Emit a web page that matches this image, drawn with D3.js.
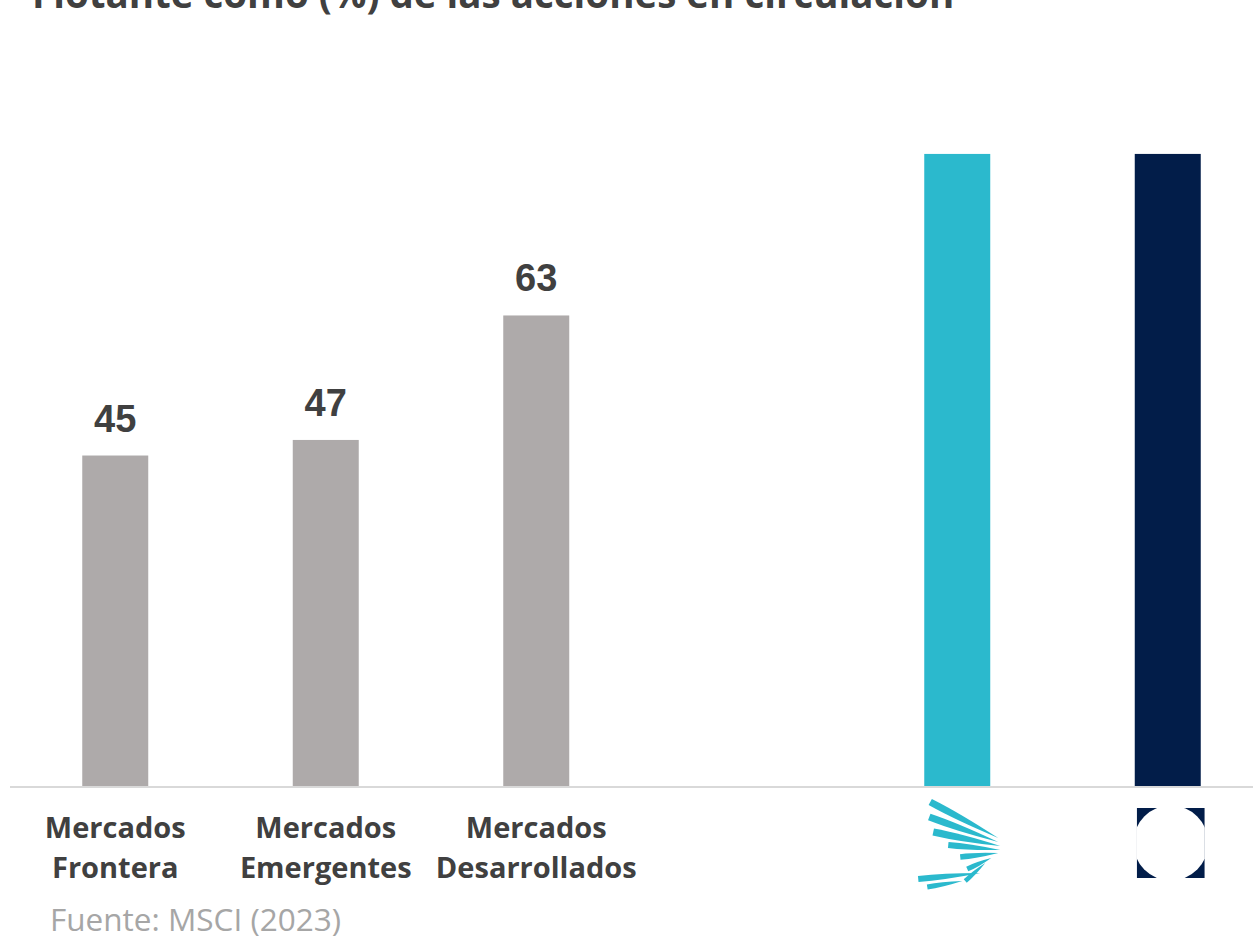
<!DOCTYPE html>
<html>
<head>
<meta charset="utf-8">
<script src="https://cdn.jsdelivr.net/npm/d3@7"></script>
<style>
  html, body { margin: 0; padding: 0; background: #ffffff; }
  svg { display: block; }
</style>
</head>
<body>
<svg id="chart" width="1253" height="940"></svg>
<script>
// ---- data ----
const categories = ["frontera", "emergentes", "desarrollados", "gap", "logoA", "logoB"];
const categoryLines = [["Mercados", "Frontera"], ["Mercados", "Emergentes"], ["Mercados", "Desarrollados"], [], [], []];
const values = [44.6, 46.7, 63.5, null, 85.3, 85.3];
const valueLabels = ["45", "47", "63", "", "", ""];
const barKinds = ["market", "market", "market", "none", "teal", "navy"];
const titleText = "Flotante como (%) de las acciones en circulación";
const sourceText = "Fuente: MSCI (2023)";

// ---- styles ----
const colors = { market: "#aeaaaa", teal: "#2bb9cd", navy: "#021d49" };
const textColor = "#404040";

const svg = d3.select("#chart");

const x = d3.scaleBand()
  .domain(categories)
  .range([10, 1273])
  .paddingInner(0.6865)
  .paddingOuter(0.6865 / 2);

const y = d3.scaleLinear().domain([0, 100]).range([786, 45]);

// title (cut at top, as in reference)
svg.append("text")
  .attr("x", 32).attr("y", 8)
  .attr("font-family", "Open Sans")
  .attr("font-weight", 700)
  .attr("font-size", 38.5)
  .attr("fill", textColor)
  .text(titleText);

const data = categories.map((c, i) => ({ c, v: values[i], label: valueLabels[i], kind: barKinds[i], lines: categoryLines[i] }));

// bars
svg.append("g").selectAll("rect")
  .data(data.filter(d => d.v != null))
  .join("rect")
  .attr("x", d => x(d.c))
  .attr("width", x.bandwidth())
  .attr("y", d => y(d.v))
  .attr("height", d => y(0) - y(d.v))
  .attr("fill", d => colors[d.kind]);

// axis baseline
svg.append("line")
  .attr("x1", 10).attr("x2", 1253)
  .attr("y1", y(0) + 1).attr("y2", y(0) + 1)
  .attr("stroke", "#d9d9d9").attr("stroke-width", 2);

// value labels
svg.append("g").selectAll("text")
  .data(data.filter(d => d.v != null && d.label))
  .join("text")
  .attr("x", d => x(d.c) + x.bandwidth() / 2)
  .attr("y", d => y(d.v) - 24)
  .attr("text-anchor", "middle")
  .attr("font-family", "Liberation Sans, Arial, sans-serif")
  .attr("font-weight", 700)
  .attr("font-size", 38)
  .attr("fill", textColor)
  .text(d => d.label);

// category labels
const catG = svg.append("g");
data.forEach(d => {
  if (!d.lines.length) return;
  const t = catG.append("text")
    .attr("text-anchor", "middle")
    .attr("font-family", "Open Sans")
    .attr("font-weight", 700)
    .attr("font-size", 29)
    .attr("fill", textColor);
  d.lines.forEach((ln, j) => {
    t.append("tspan")
      .attr("x", x(d.c) + x.bandwidth() / 2)
      .attr("y", 838 + j * 40)
      .text(ln);
  });
});

// logo A: teal wing under teal bar
const cxA = x("logoA") + x.bandwidth() / 2;
const feathers = [
  [[-27, 802], [41, 838], 7],
  [[-28, 817], [41, 842], 7],
  [[-24, 832], [43, 846], 7],
  [[-9, 845], [43, 850], 6],
  [[3, 857], [41, 853], 5.5],
  [[10, 869], [34, 858], 5],
  [[8, 881], [28, 863], 4.5],
  [[-39, 879], [23, 873], 6],
  [[-30, 887], [5, 881], 5]
];
const gA = svg.append("g");
feathers.forEach(([p0, p1, w]) => {
  const x0 = cxA + p0[0], y0 = p0[1], x1 = cxA + p1[0], y1 = p1[1];
  const dx = x1 - x0, dy = y1 - y0, len = Math.hypot(dx, dy);
  const nx = -dy / len, ny = dx / len;
  const path = d3.path();
  path.moveTo(x0 + nx * w / 2, y0 + ny * w / 2);
  path.quadraticCurveTo(x0 + dx * 0.4 + nx * w * 0.6, y0 + dy * 0.4 + ny * w * 0.6, x1, y1);
  path.quadraticCurveTo(x0 + dx * 0.4 - nx * w * 0.6, y0 + dy * 0.4 - ny * w * 0.6, x0 - nx * w / 2, y0 - ny * w / 2);
  path.closePath();
  gA.append("path").attr("d", path.toString()).attr("fill", colors.teal);
});

// logo B: navy square with white circle
const cxB = x("logoB") + x.bandwidth() / 2 + 3;
const sq = 68;
svg.append("clipPath").attr("id", "sqclip")
  .append("rect").attr("x", cxB - sq / 2).attr("y", 808).attr("width", sq).attr("height", 70);
const gB = svg.append("g").attr("clip-path", "url(#sqclip)");
gB.append("rect").attr("x", cxB - sq / 2).attr("y", 808).attr("width", sq).attr("height", 70).attr("fill", colors.navy);
gB.append("circle").attr("cx", cxB).attr("cy", 843).attr("r", 37.5).attr("fill", "#ffffff");

// source
svg.append("text")
  .attr("x", 50).attr("y", 931)
  .attr("font-family", "Open Sans")
  .attr("font-weight", 400)
  .attr("font-size", 31.5)
  .attr("fill", "#a6a6a6")
  .text(sourceText);
</script>
</body>
</html>
